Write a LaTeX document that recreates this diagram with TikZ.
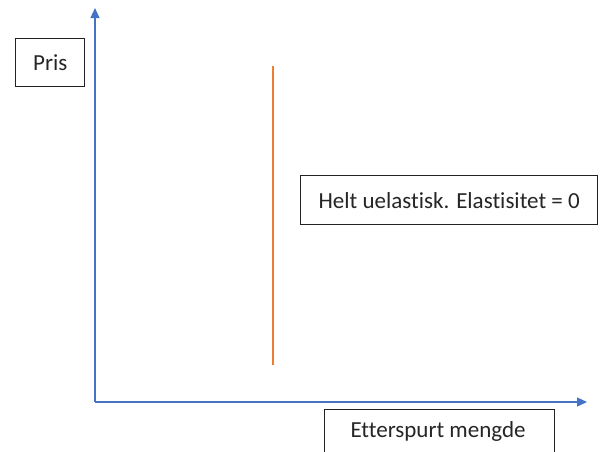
\documentclass[tikz,border=0pt]{standalone}
\usepackage{fontspec}
\setmainfont{Carlito}[Ligatures=NoCommon]
\usetikzlibrary{arrows.meta}
\definecolor{axisblue}{HTML}{4472C4}
\definecolor{curveorange}{HTML}{ED7D31}
\definecolor{boxline}{HTML}{222222}
\begin{document}
\begin{tikzpicture}[x=1pt,y=-1pt,
  axis/.style={draw=axisblue,line width=1.2pt,-{Triangle[length=10pt,width=9pt]}},
  labeltext/.style={font=\fontsize{23}{26}\selectfont,text=black!85},
  labelbox/.style={labeltext,draw=boxline,line width=1.4pt,fill=white,inner sep=0pt,anchor=north west}]
\useasboundingbox (0,0) rectangle (605,451);
\clip (0,0) rectangle (605,451);
\coordinate (origin) at (95,402);
\coordinate (ytip) at (95,8);
\coordinate (xtip) at (587,402);
\draw[axis] (origin) -- (ytip);
\draw[axis] (origin) -- (xtip);
\coordinate (vtop) at (273,66);
\coordinate (vbot) at (273,365);
\draw[draw=curveorange,line width=1.3pt] (vtop) -- (vbot);
\node[labelbox,minimum width=69pt,minimum height=48pt] (pris) at (15,38) {Pris};
\node[labelbox,minimum width=297pt,minimum height=49pt] (helt) at (300,175) {Helt uelastisk. Elastisitet = 0};
\node[labelbox,minimum width=230pt,minimum height=60pt] (mengdebox) at (324,409) {};
\node[labeltext,inner sep=0pt] (mengde) at (438,431) {Etterspurt mengde};
\end{tikzpicture}
\end{document}
